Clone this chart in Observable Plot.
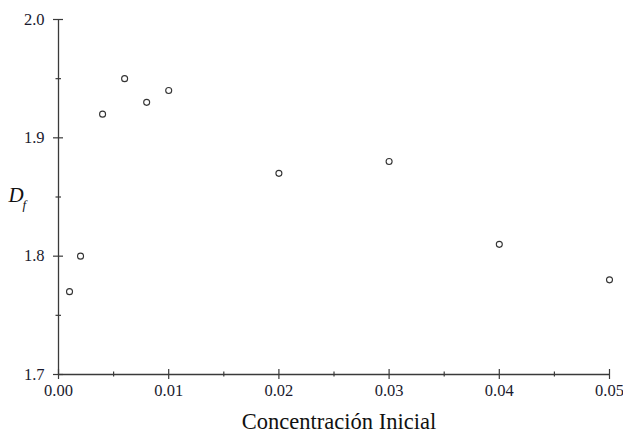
<!DOCTYPE html>
<html>
<head>
<meta charset="utf-8">
<script src="https://cdn.jsdelivr.net/npm/d3@7"></script>
<script src="https://cdn.jsdelivr.net/npm/@observablehq/plot@0.6"></script>
<style>
  html, body { margin: 0; padding: 0; background: #fff; }
  #chart svg, #chart svg text { font-family: "Liberation Serif", "Times New Roman", Times, serif !important; }
</style>
</head>
<body>
<div id="chart"></div>
<script>
const concentracion = [0.001, 0.002, 0.004, 0.006, 0.008, 0.01, 0.02, 0.03, 0.04, 0.05];
const df = [1.77, 1.80, 1.92, 1.95, 1.93, 1.94, 1.87, 1.88, 1.81, 1.78];
const xMajor = [0, 0.01, 0.02, 0.03, 0.04, 0.05];
const xMinor = [0.005, 0.015, 0.025, 0.035, 0.045];
const yMajor = [1.7, 1.8, 1.9, 2.0];
const yMinor = [1.75, 1.85, 1.95];
const xLabels = ["0.00", "0.01", "0.02", "0.03", "0.04", "0.05"];
const yLabels = ["1.7", "1.8", "1.9", "2.0"];

const data = concentracion.map((c, i) => ({c, d: df[i]}));
const axisColor = "#3a3a3a";

const plot = Plot.plot({
  width: 623,
  height: 439,
  marginLeft: 58,
  marginRight: 14,
  marginTop: 19,
  marginBottom: 65,
  style: {background: "#fff"},
  x: {domain: [0, 0.05], axis: null},
  y: {domain: [1.7, 2.0], axis: null},
  marks: [
    // axis lines
    Plot.ruleY([1.7], {x1: 0, x2: 0.05, stroke: axisColor, strokeWidth: 1.3}),
    Plot.ruleX([0], {y1: 1.7, y2: 2.0, stroke: axisColor, strokeWidth: 1.3}),
    // x major/minor ticks crossing axis
    Plot.ruleX(xMajor, {x: d => d, y1: 1.7, y2: 1.7, insetTop: -5, insetBottom: -5, stroke: axisColor, strokeWidth: 1.2}),
    Plot.ruleX(xMinor, {x: d => d, y1: 1.7, y2: 1.7, insetTop: -2.5, insetBottom: -2.5, stroke: axisColor, strokeWidth: 1.2}),
    // y major/minor ticks crossing axis
    Plot.ruleY(yMajor, {y: d => d, x1: 0, x2: 0, insetLeft: -5, insetRight: -5, stroke: axisColor, strokeWidth: 1.2}),
    Plot.ruleY(yMinor, {y: d => d, x1: 0, x2: 0, insetLeft: -2.5, insetRight: -3, stroke: axisColor, strokeWidth: 1.2}),
    // tick labels
    Plot.axisX({ticks: xMajor, tickSize: 0, tickPadding: 10, tickFormat: (d, i) => xLabels[i], fontSize: 16.5, color: "#1a1a2e", label: null}),
    Plot.axisY({ticks: yMajor, tickSize: 0, tickPadding: 14, tickFormat: (d, i) => yLabels[i], fontSize: 16.5, color: "#1a1a2e", label: null}),
    // axis titles
    Plot.text(["Concentración Inicial"], {frameAnchor: "bottom", dx: 5, dy: 47, text: d => d, fontSize: 22.5, fill: "#111", lineAnchor: "middle"}),
    Plot.text(["D"], {frameAnchor: "left", dx: -50, dy: -2, text: d => d, textAnchor: "start", fontSize: 21, fontStyle: "italic", fill: "#111", lineAnchor: "middle"}),
    Plot.text(["f"], {frameAnchor: "left", dx: -36, dy: 8, text: d => d, textAnchor: "start", fontSize: 13, fontStyle: "italic", fill: "#111", lineAnchor: "middle"}),
    // data points
    Plot.dot(data, {x: "c", y: "d", r: 3, stroke: "#333", strokeWidth: 1.1, fill: "white"})
  ]
});
document.getElementById("chart").appendChild(plot);
</script>
</body>
</html>
